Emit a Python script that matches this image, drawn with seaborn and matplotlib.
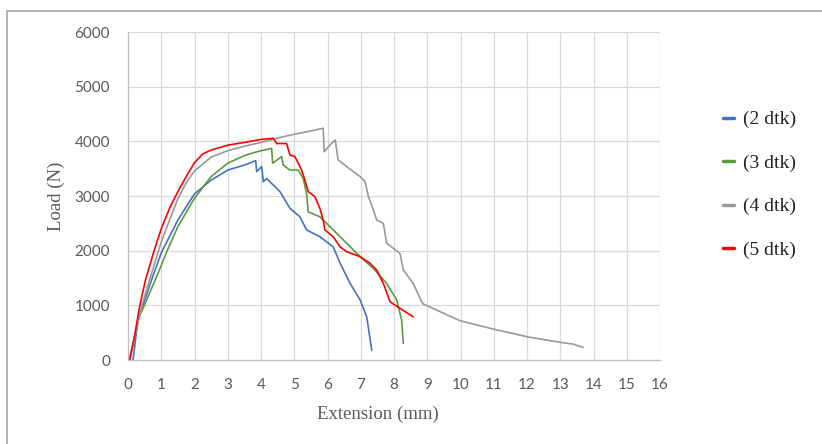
import pandas as pd
import matplotlib.pyplot as plt
from matplotlib.lines import Line2D
import seaborn as sns

## extension (mm) and load (N), one pair of lists per specimen
ext_2 = [0.15, 0.2, 0.3, 0.45, 0.7, 1.0, 1.5, 2.0, 2.5, 3.0, 3.5, 3.84, 3.87, 4.02, 4.07,
         4.17, 4.57, 4.87, 5.17, 5.37, 5.77, 6.17, 6.38, 6.68, 6.98, 7.18, 7.33]
load_2 = [0, 240, 730, 1000, 1450, 1960, 2560, 3040, 3290, 3475, 3565, 3645, 3445, 3540, 3260,
          3320, 3080, 2775, 2620, 2380, 2255, 2070, 1770, 1400, 1100, 790, 180]

ext_3 = [0.05, 0.33, 0.5, 0.8, 1.0, 1.18, 1.5, 2.0, 2.5, 3.0, 3.5, 4.0, 4.32, 4.35, 4.62,
         4.67, 4.87, 5.12, 5.27, 5.37, 5.42, 5.77, 6.17, 6.58, 6.98, 7.38, 7.78, 8.08, 8.23, 8.28]
load_3 = [0, 790, 1010, 1440, 1730, 2000, 2440, 2960, 3355, 3600, 3740, 3830, 3870, 3600, 3720,
          3565, 3475, 3475, 3320, 3050, 2710, 2620, 2380, 2135, 1890, 1675, 1400, 1100, 730, 305]

ext_4 = [0.03, 0.2, 0.42, 0.65, 0.9, 1.0, 1.25, 1.5, 1.75, 2.0, 2.5, 3.0, 3.5, 4.0, 4.5, 5.0,
         5.5, 5.87, 5.90, 6.08, 6.23, 6.32, 6.58, 6.98, 7.13, 7.23, 7.38, 7.48, 7.68, 7.78, 8.18,
         8.28, 8.58, 8.83, 8.88, 9.98, 11.09, 12.09, 13.09, 13.39, 13.69]
load_4 = [0, 420, 1000, 1470, 1960, 2160, 2560, 2950, 3240, 3460, 3710, 3830, 3910, 3980, 4060,
          4130, 4190, 4240, 3810, 3935, 4025, 3660, 3535, 3355, 3260, 2990, 2745, 2560, 2500,
          2135, 1950, 1645, 1400, 1065, 1025, 720, 550, 415, 315, 290, 230]

ext_5 = [0.05, 0.2, 0.35, 0.52, 0.78, 1.0, 1.25, 1.5, 1.75, 2.0, 2.25, 2.5, 3.0, 3.5, 4.0, 4.37,
         4.47, 4.77, 4.87, 5.02, 5.12, 5.22, 5.32, 5.42, 5.62, 5.77, 5.87, 5.92, 6.17, 6.38, 6.58,
         6.98, 7.28, 7.48, 7.68, 7.88, 8.18, 8.58]
load_5 = [0, 450, 980, 1450, 1990, 2400, 2775, 3080, 3355, 3610, 3770, 3840, 3930, 3980, 4035,
          4055, 3960, 3960, 3750, 3720, 3600, 3475, 3290, 3080, 2990, 2775, 2560, 2380, 2255,
          2070, 1980, 1890, 1770, 1645, 1400, 1065, 945, 790]

series_names = ["(2 dtk)", "(3 dtk)", "(4 dtk)", "(5 dtk)"]
x_ticks = list(range(0, 17))
y_ticks = [0, 1000, 2000, 3000, 4000, 5000, 6000]

## long table for seaborn
frames = []
for name, xs, ys in zip(series_names, [ext_2, ext_3, ext_4, ext_5], [load_2, load_3, load_4, load_5]):
    frames.append(pd.DataFrame({"Extension": xs, "Load": ys, "Specimen": name}))
data = pd.concat(frames, ignore_index=True)

palette = {"(2 dtk)": "#4472C4", "(3 dtk)": "#5b9a40", "(4 dtk)": "#999999", "(5 dtk)": "#ff0000"}
text_grey = "#595959"

sns.set_style("white")
fig = plt.figure(figsize=(8.22, 4.44), dpi=100)
ax = fig.add_axes([128 / 822, 1 - 360 / 444, 532 / 822, 328 / 444])

sns.lineplot(data=data, x="Extension", y="Load", hue="Specimen", palette=palette,
             sort=False, estimator=None, linewidth=1.2, ax=ax)

ax.set(xlim=(0, 16), ylim=(0, 6000))
ax.set_xticks(x_ticks)
ax.set_yticks(y_ticks)
ax.grid(True, color="#d9d9d9", linewidth=0.9)
ax.set_axisbelow(True)
for side in ["top", "right"]:
    ax.spines[side].set_visible(False)
for side in ["left", "bottom"]:
    ax.spines[side].set_color("#bfbfbf")
    ax.spines[side].set_linewidth(0.9)

ax.tick_params(axis="both", direction="out", length=4, width=0.9, color="#bfbfbf",
               labelcolor=text_grey, labelsize=11)
ax.tick_params(axis="x", pad=9)
ax.tick_params(axis="y", pad=9)
for lab in ax.get_xticklabels() + ax.get_yticklabels():
    lab.set_fontfamily("Lato")

serif = {"family": "Liberation Serif", "size": 13.5, "color": text_grey}
ax.set_xlabel("Extension (mm)", fontdict=serif)
ax.set_ylabel("Load (N)", fontdict=serif)
ax.xaxis.set_label_coords(0.47, -0.14)
ax.yaxis.set_label_coords(-0.118, 0.5)

## legend on the right, short thick keys
handles, labels = ax.get_legend_handles_labels()
ax.get_legend().remove()
leg = fig.legend(handles, labels, loc="upper left", bbox_to_anchor=(713 / 822, 1 - 101 / 444),
                 frameon=False, prop={"family": "Liberation Serif", "size": 14},
                 handlelength=0.6, handletextpad=0.45, labelspacing=1.33, borderpad=0)
for line in leg.get_lines():
    line.set_linewidth(2.5)
for txt in leg.get_texts():
    txt.set_color("#222222")

## chart frame (top and left edges visible)
fig.add_artist(Line2D([7 / 822, 1], [1 - 11 / 444, 1 - 11 / 444], color="#a6a6a6", linewidth=1.2))
fig.add_artist(Line2D([7 / 822, 7 / 822], [0, 1 - 11 / 444], color="#a6a6a6", linewidth=1.2))

fig.savefig("out.png", dpi=100)
